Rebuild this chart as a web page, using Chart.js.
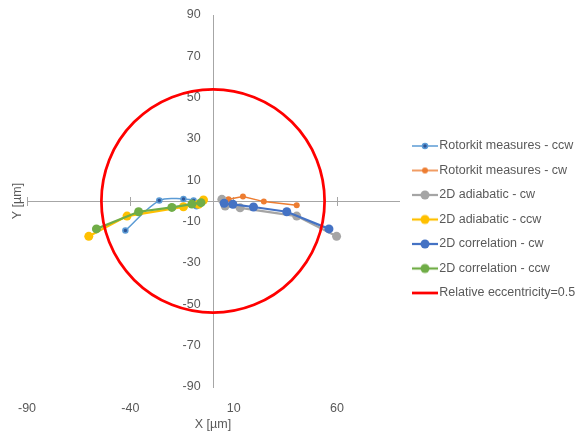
<!DOCTYPE html>
<html><head><meta charset="utf-8">
<script src="https://cdn.jsdelivr.net/npm/chart.js@4"></script>
<style>html,body{margin:0;padding:0;background:#fff}#wrap{width:578px;height:433px}</style>
</head><body><div id="wrap"><canvas id="c" width="578" height="433"></canvas></div>
<script>
// ---- data (µm) ----
const seriesNames = ['Rotorkit measures - ccw','Rotorkit measures - cw','2D adiabatic - cw','2D adiabatic - ccw','2D correlation - cw','2D correlation - ccw','Relative eccentricity=0.5'];
const rotorkitCcwX = [-42.4, -26.0, -14.3, -9.4, -8.0];
const rotorkitCcwY = [-14.3, 0.2, 1.0, 0.2, -2.5];
const rotorkitCwX = [7.5, 14.5, 24.6, 40.5];
const rotorkitCwY = [0.8, 2.2, -0.3, -2.1];
const adiabaticCwX = [4.3, 5.9, 13.1, 40.5, 59.8];
const adiabaticCwY = [0.8, -2.4, -3.3, -7.3, -17.1];
const adiabaticCcwX = [-60.1, -41.6, -14.3, -7.0, -4.6];
const adiabaticCcwY = [-17.1, -7.3, -2.8, -1.6, 0.5];
const correlationCwX = [5.4, 9.6, 19.6, 35.7, 56.1];
const correlationCwY = [-1.1, -1.6, -2.9, -5.2, -13.5];
const correlationCcwX = [-56.4, -36.0, -19.9, -10.2, -5.8];
const correlationCcwY = [-13.5, -5.2, -3.1, -1.5, -0.8];
const eccentricityRadius = 54;
const xTickValues = [-90, -40, 10, 60];
const yTickValues = [-90, -70, -50, -30, -10, 10, 30, 50, 70, 90];
const axisMin = -90, axisMax = 90;

const pts = (xs, ys) => xs.map((x, i) => ({x, y: ys[i]}));
const FONT = 'Liberation Sans, Arial, sans-serif';
const TXT = '#595959';
const AXIS = '#a6a6a6';

function legendIcon(color, lw, r, fill, bw) {
  const c = document.createElement('canvas');
  c.width = 32; c.height = 12;
  const g = c.getContext('2d');
  if (lw > 0) {
    g.strokeStyle = color; g.lineWidth = lw;
    g.beginPath(); g.moveTo(6, 6); g.lineTo(32, 6); g.stroke();
  }
  if (r > 0) {
    g.beginPath(); g.arc(19, 6, r, 0, Math.PI * 2);
    g.fillStyle = fill; g.fill();
    if (bw) { g.lineWidth = bw; g.strokeStyle = color; g.stroke(); }
  }
  return c;
}

const styles = [
  {color:'#5B9BD5', lw:1.5, r:2.5, fill:'#2F5597', bw:1.5, tension:0.35},
  {color:'#ED7D31', lw:1.5, r:3, fill:'#ED7D31', bw:0, tension:0},
  {color:'#A5A5A5', lw:2.25, r:4.5, fill:'#A5A5A5', bw:0, tension:0},
  {color:'#FFC000', lw:2.25, r:4.5, fill:'#FFC000', bw:0, tension:0},
  {color:'#4472C4', lw:2.25, r:4.5, fill:'#4472C4', bw:0, tension:0},
  {color:'#70AD47', lw:2.25, r:4.5, fill:'#70AD47', bw:0, tension:0},
  {color:'#FF0000', lw:2.75, r:0, fill:'#FF0000', bw:0, tension:0}
];
const seriesData = [
  pts(rotorkitCcwX, rotorkitCcwY), pts(rotorkitCwX, rotorkitCwY),
  pts(adiabaticCwX, adiabaticCwY), pts(adiabaticCcwX, adiabaticCcwY),
  pts(correlationCwX, correlationCwY), pts(correlationCcwX, correlationCcwY),
  []
];

const datasets = seriesNames.map((name, i) => {
  const s = styles[i];
  return {
    label: name, data: seriesData[i], showLine: true,
    borderColor: s.color, borderWidth: s.lw, tension: s.tension,
    pointRadius: s.r, pointHoverRadius: s.r,
    pointBackgroundColor: s.fill, pointBorderColor: s.color,
    pointBorderWidth: s.bw, order: seriesNames.length - i,
    xAxisID: 'x', yAxisID: 'y'
  };
});

const circlePlugin = {
  id: 'eccCircle',
  afterDatasetsDraw(chart) {
    const xs = chart.scales.x, ys = chart.scales.y;
    const cx = xs.getPixelForValue(0), cy = ys.getPixelForValue(0);
    const rx = xs.getPixelForValue(eccentricityRadius) - cx;
    const ry = cy - ys.getPixelForValue(eccentricityRadius);
    const ctx = chart.ctx;
    ctx.save();
    ctx.strokeStyle = styles[6].color; ctx.lineWidth = styles[6].lw;
    ctx.beginPath(); ctx.ellipse(cx, cy, rx, ry, 0, 0, Math.PI * 2); ctx.stroke();
    ctx.restore();
  }
};

const setXTicks = s => { s.ticks = xTickValues.map(v => ({value: v})); };
const setYTicks = s => { s.ticks = yTickValues.map(v => ({value: v})); };

new Chart(document.getElementById('c'), {
  type: 'scatter',
  data: {datasets},
  plugins: [circlePlugin],
  options: {
    responsive: false, animation: false, devicePixelRatio: 1,
    layout: {padding: {left: 4, top: 15, right: 0, bottom: 9}},
    plugins: {
      tooltip: {enabled: false},
      legend: {
        position: 'right', align: 'center', maxWidth: 179,
        labels: {
          usePointStyle: true, pointStyleWidth: 22, padding: 12,
          color: TXT, font: {family: FONT, size: 12.5},
          generateLabels(chart) {
            return chart.data.datasets.map((d, i) => ({
              text: d.label, datasetIndex: i, hidden: false,
              fontColor: TXT, lineWidth: 0,
              pointStyle: legendIcon(styles[i].color, styles[i].lw, styles[i].r, styles[i].fill, styles[i].bw)
            }));
          }
        }
      }
    },
    scales: {
      x: {
        type: 'linear', position: 'bottom', min: axisMin, max: axisMax,
        afterBuildTicks: setXTicks,
        ticks: {color: TXT, font: {family: FONT, size: 12.5}, padding: 14, autoSkip: false, maxRotation: 0},
        grid: {display: false, drawTicks: false}, border: {display: false},
        title: {display: true, text: 'X [µm]', color: TXT, font: {family: FONT, size: 12.5}, padding: {top: -13, bottom: -8}}
      },
      xLineDown: {
        type: 'linear', axis: 'x', position: {y: 0}, min: axisMin, max: axisMax,
        afterBuildTicks: setXTicks,
        ticks: {display: false},
        grid: {display: true, drawOnChartArea: false, drawTicks: true, tickLength: 4, color: AXIS, lineWidth: 1},
        border: {display: true, color: AXIS, width: 1}
      },
      xLineUp: {
        type: 'linear', axis: 'x', position: {y: 0}, min: axisMin, max: axisMax,
        afterBuildTicks: setXTicks,
        ticks: {display: false},
        grid: {display: true, drawOnChartArea: false, drawTicks: true, tickLength: -4, color: AXIS, lineWidth: 1},
        border: {display: false}
      },
      y: {
        type: 'linear', position: {x: -6}, min: axisMin, max: axisMax,
        afterBuildTicks: setYTicks,
        ticks: {color: TXT, font: {family: FONT, size: 12.5}, padding: 0, autoSkip: false},
        grid: {display: false, drawTicks: false},
        border: {display: false}
      },
      yLine: {
        type: 'linear', axis: 'y', position: {x: 0}, min: axisMin, max: axisMax,
        ticks: {display: false},
        grid: {display: false, drawTicks: false},
        border: {display: true, color: AXIS, width: 1}
      },
      yTitle: {
        type: 'linear', axis: 'y', position: 'left', min: axisMin, max: axisMax,
        ticks: {display: false}, grid: {display: false, drawTicks: false}, border: {display: false},
        title: {display: true, text: 'Y [µm]', color: TXT, font: {family: FONT, size: 12.5}, padding: {top: 6, bottom: 2}}
      }
    }
  }
});
</script>
</body></html>
